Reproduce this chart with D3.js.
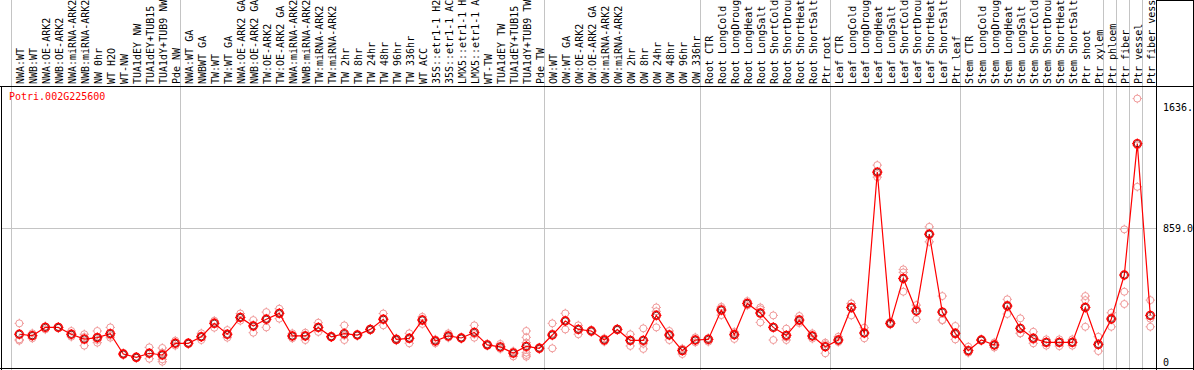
<!DOCTYPE html>
<html><head><meta charset="utf-8">
<script src="https://cdn.jsdelivr.net/npm/d3@7"></script>
<style>body{margin:0;background:#fff}svg{display:block}</style>
</head><body>
<script>
const title = "Potri.002G225600";
const categories = ["NWA:WT","NWB:WT","NWA:OE-ARK2","NWB:OE-ARK2","NWA:miRNA-ARK2","NWB:miRNA-ARK2","NW 0hr","WT H2O","WT-NW","TUA1dEY NW","TUA1dEY+TUB15","TUA1dY+TUB9 NW","Pde NW",
"NWA:WT GA","NWBWT GA","TW:WT","TW:WT GA","NWA:OE-ARK2 GA","NWB:OE-ARK2 GA","TW:OE-ARK2","TW:OE-ARK2 GA","NWA:miRNA-ARK2","NWB:miRNA-ARK2","TW:miRNA-ARK2","TW:miRNA-ARK2","TW 2hr","TW 8hr","TW 24hr","TW 48hr","TW 96hr","TW 336hr","WT ACC","35S::etr1-1 H2","35S::etr1-1 AC","LMX5::etr1-1 H","LMX5::etr1-1 A","WT-TW","TUA1dEY TW","TUA1dEY+TUB15","TUA1dY+TUB9 TW","Pde TW",
"OW:WT","OW:WT GA","OW:OE-ARK2","OW:OE-ARK2 GA","OW:miRNA-ARK2","OW:miRNA-ARK2","OW 2hr","OW 8hr","OW 24hr","OW 48hr","OW 96hr","OW 336hr",
"Root CTR","Root LongCold","Root LongDroug","Root LongHeat","Root LongSalt","Root ShortCold","Root ShortDrou","Root ShortHeat","Root ShortSalt","Ptr root",
"Leaf CTR","Leaf LongCold","Leaf LongDroug","Leaf LongHeat","Leaf LongSalt","Leaf ShortCold","Leaf ShortDrou","Leaf ShortHeat","Leaf ShortSalt","Ptr leaf",
"Stem CTR","Stem LongCold","Stem LongDroug","Stem LongHeat","Stem LongSalt","Stem ShortCold","Stem ShortDrou","Stem ShortHeat","Stem ShortSalt","Ptr shoot","Ptr xylem",
"Ptr phloem","Ptr fiber","Ptr vessel","Ptr fiber vess"];
// index of first category of each group (vertical separators)
const groupStarts = [0,13,41,53,63,73,84,85,86,87,88];
const means = [178,169,222,222,178,147,156,182,51,30,56,45,120,
120,162,248,178,286,231,274,312,167,167,222,162,182,173,209,274,145,152,269,135,167,154,190,110,97,57,100,88,
173,263,209,199,141,209,139,139,299,173,73,141,
145,333,175,376,314,222,171,269,167,98,
141,350,186,1218,248,536,327,820,320,184,
73,141,109,359,216,152,126,126,126,350,113,
276,558,1401,299];
const replicates = [[248,145,137],[184,152,170],[229,209,228],[226,218,222],[199,162,173],[178,160,105],[199,141,124,160],[222,156,168],[57,45,51],[30,34,26],[94,21,53],[90,57,17,2,60],[137,105,118],
[124,116,120],[184,141,161],[265,220,259],[205,156,173],[311,265,282],[269,188,236],[320,222,280],[342,278,316],[184,152,165],[188,141,172],[252,193,221],[158,166,162],[235,141,170],[177,169,173],[214,204,209],[311,235,276],[152,138,145],[184,120,152],[290,244,273],[145,120,140],[184,156,161],[158,150,154],[235,156,179],[116,104,110],[116,84,91],[66,36,69],[199,158,124,60,45,34],[94,82,88],
[248,88,183],[312,209,268],[235,178,214],[206,192,199],[152,130,141],[214,204,209],[178,103,136],[216,84,117],[350,222,325],[199,141,179],[86,51,82],[158,126,139],
[130,152,153],[344,301,354],[184,148,193],[391,363,374],[350,254,338],[299,141,226],[214,141,158],[295,250,262],[184,150,167],[124,56,114],
[162,128,133],[376,299,375],[220,152,186],[1263,1186,1205],[258,240,246],[594,575,451],[365,274,342],[867,771,822],[423,269,268],[231,145,176],
[98,60,61],[145,138,140],[125,93,109],[402,308,367],[280,184,184],[194,120,142],[145,105,128],[145,102,131],[145,105,128],[423,397,226],[162,70,107],
[316,226,286],[851,451,372],[1690,1124,1389],[397,278,226]];
const tickValues = [0, 859, 1636];
const tickLabels = ["0", "859.0", "1636."];

const W = 1194, H = 370;
const svg = d3.select("body").append("svg").attr("width", W).attr("height", H)
  .style("font-family", "'DejaVu Sans Mono', monospace").style("font-size", "10px");
svg.append("rect").attr("width", W).attr("height", H).attr("fill", "#fff");

const x0 = 11, step = 13;
const xBand = d3.scaleBand().domain(d3.range(categories.length)).range([x0, x0 + step * categories.length]).padding(0);
const xc = i => xBand(i) + 8.3;
const y = d3.scaleLinear().domain([0, 1636]).range([362, 107]);

const grid = "#c4c4c4";
// horizontal gridline
svg.append("line").attr("x1", 2).attr("x2", 1156).attr("y1", Math.round(y(859)) + 0.5).attr("y2", Math.round(y(859)) + 0.5)
  .attr("stroke", grid).attr("stroke-width", 1);
// vertical separators
svg.selectAll("line.vg").data(groupStarts.slice(0, -1)).join("line").attr("class", "vg")
  .attr("x1", d => xBand(d) + 0.5).attr("x2", d => xBand(d) + 0.5).attr("y1", 0).attr("y2", H)
  .attr("stroke", grid).attr("stroke-width", 1);

// frame
svg.append("line").attr("x1", 0).attr("x2", W).attr("y1", 86.5).attr("y2", 86.5).attr("stroke", "#000");
svg.append("line").attr("x1", 1.5).attr("x2", 1.5).attr("y1", 86).attr("y2", H).attr("stroke", "#000");
svg.append("line").attr("x1", 0).attr("x2", W).attr("y1", 368.5).attr("y2", 368.5).attr("stroke", "#000");
svg.append("line").attr("x1", 1156.5).attr("x2", 1156.5).attr("y1", 0).attr("y2", H).attr("stroke", "#000");
svg.append("line").attr("x1", 1193.5).attr("x2", 1193.5).attr("y1", 0).attr("y2", H).attr("stroke", "#000");
svg.append("line").attr("x1", 1156).attr("x2", W).attr("y1", 0.5).attr("y2", 0.5).attr("stroke", "#000");

// category labels
svg.selectAll("text.cat").data(categories).join("text").attr("class", "cat")
  .attr("transform", (d, i) => `translate(${xBand(i) + 12.5},84) rotate(-90)`)
  .attr("fill", "#000").text(d => d);

// title
svg.append("text").attr("x", 9).attr("y", 100).attr("fill", "#f00").text(title);

// right axis labels
svg.selectAll("text.tk").data(tickValues).join("text").attr("class", "tk")
  .attr("x", 1163).attr("y", d => y(d) + 4).attr("fill", "#000")
  .text((d, i) => tickLabels[i]);

function marker(g, cx, cy, color, r, sw) {
  g.append("circle").attr("cx", cx).attr("cy", cy).attr("r", r).attr("fill", "none").attr("stroke", color).attr("stroke-width", sw);
  const t = r + 1.2;
  g.append("path").attr("d", `M${cx},${cy - t}v1.5M${cx},${cy + t}v-1.5M${cx - t},${cy}h1.5M${cx + t},${cy}h-1.5`)
    .attr("stroke", color).attr("stroke-width", 1);
}

// replicates
const gr = svg.append("g");
replicates.forEach((arr, i) => arr.forEach(v => marker(gr, xc(i), y(v), "#f09a9a", 3.5, 1)));

// mean line
svg.append("path").datum(means).attr("fill", "none").attr("stroke", "#f00").attr("stroke-width", 1.2)
  .attr("d", d3.line().x((d, i) => xc(i)).y(d => y(d)));

// mean markers
const gm = svg.append("g");
means.forEach((v, i) => {
  gm.append("circle").attr("cx", xc(i)).attr("cy", y(v)).attr("r", 3.2).attr("fill", "none").attr("stroke", "#400").attr("stroke-width", 0.8);
  marker(gm, xc(i), y(v), "#f00", 4, 1.4);
});
</script>
</body></html>
